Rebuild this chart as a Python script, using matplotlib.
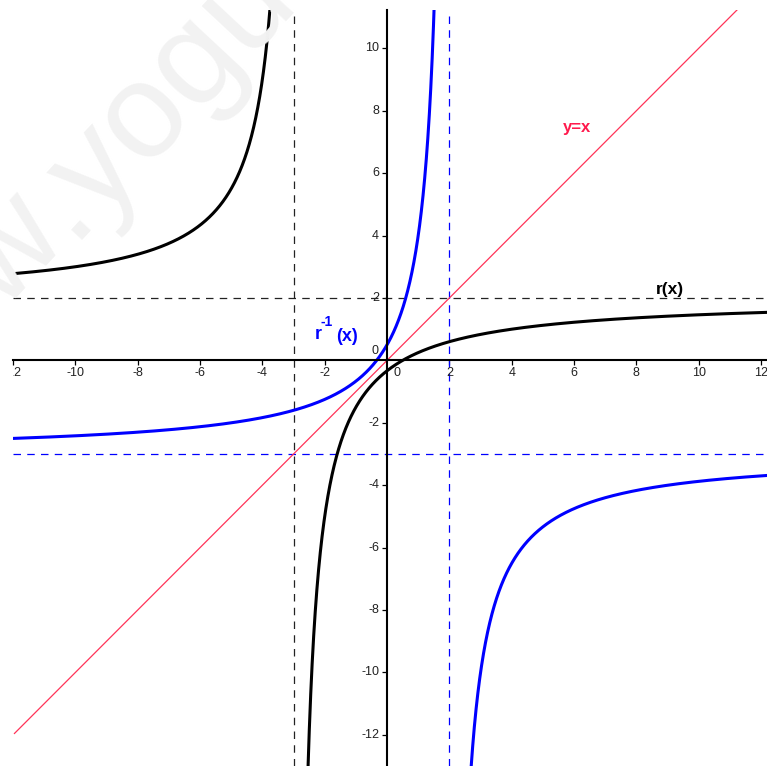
import numpy as np
import matplotlib
matplotlib.use("Agg")
import matplotlib.pyplot as plt
from matplotlib.transforms import offset_copy

plt.rcParams['font.family'] = ['Liberation Sans', 'DejaVu Sans']

# ---- data ----
# r(x) = (a*x + b) / (c*x + d)
r_num = [2, -1]
r_den = [1, 3]
# r^-1(x) = (a*x + b) / (c*x + d)
rinv_num = [3, 1]
rinv_den = [-1, 2]
r_vasym = -3.0      # vertical asymptote of r
r_hasym = 2.0       # horizontal asymptote of r
rinv_vasym = 2.0    # vertical asymptote of r^-1
rinv_hasym = -3.0   # horizontal asymptote of r^-1
x_ticks = [-12, -10, -8, -6, -4, -2, 2, 4, 6, 8, 10, 12]
y_ticks = [-12, -10, -8, -6, -4, -2, 2, 4, 6, 8, 10]
xlim = (-11.953, 12.190)
ylim = (-12.996, 11.227)

W, H = 767, 766
fig = plt.figure(figsize=(W / 100, H / 100), dpi=100)
fig.patch.set_facecolor('white')

# watermark
wm_kw = dict(fontsize=98, color='#f2f2f2', rotation=47, rotation_mode='anchor',
             va='baseline', zorder=0)
fig.text(70 / W, 1 - 240 / H, 'www', ha='right', **wm_kw)
fig.text(70 / W, 1 - 240 / H, '.yogu', ha='left', **wm_kw)

ax = fig.add_axes([13 / W, 0, 754 / W, 756 / H])
ax.set_facecolor('none')
ax.set_xlim(*xlim)
ax.set_ylim(*ylim)


def rational(num, den, x):
    return (num[0] * x + num[1]) / (den[0] * x + den[1])


eps = 1e-3
# r(x)
for lo, hi in [(xlim[0], r_vasym - eps), (r_vasym + eps, xlim[1])]:
    xs = np.linspace(lo, hi, 4000)
    ax.plot(xs, rational(r_num, r_den, xs), color='black', lw=2.2, zorder=5)
# r^-1(x)
for lo, hi in [(xlim[0], rinv_vasym - eps), (rinv_vasym + eps, xlim[1])]:
    xs = np.linspace(lo, hi, 4000)
    ax.plot(xs, rational(rinv_num, rinv_den, xs), color='#0000ff', lw=2.2, zorder=5)
# y = x
ax.plot(list(xlim), list(xlim), color='#ff3358', lw=0.9, zorder=4)

# asymptotes
dash = (0, (6, 5))
ax.axvline(r_vasym, color='#222222', lw=0.9, ls=dash, zorder=3)
ax.axhline(r_hasym, color='#222222', lw=0.9, ls=dash, zorder=3)
ax.axvline(rinv_vasym, color='#0000ff', lw=0.9, ls=dash, zorder=3)
ax.axhline(rinv_hasym, color='#0000ff', lw=0.9, ls=dash, zorder=3)

# axes through origin
for s in ['top', 'right']:
    ax.spines[s].set_visible(False)
ax.spines['left'].set_position(('data', 0))
ax.spines['bottom'].set_position(('data', 0))
ax.spines['left'].set_linewidth(1.5)
ax.spines['bottom'].set_linewidth(1.5)
ax.spines['left'].set_zorder(6)
ax.spines['bottom'].set_zorder(6)
ax.set_xticks(x_ticks)
ax.set_yticks(y_ticks)
ax.set_xticklabels([])
ax.set_yticklabels([])
ax.tick_params(direction='out', length=3.5, width=0.9, color='black')

lab_kw = dict(fontsize=9, color='#222222', clip_on=True, zorder=7)
tx = offset_copy(ax.transData, fig=fig, x=0, y=-13 * 0.72, units='points')
for v in x_ticks:
    ax.text(v, 0, '-%d' % abs(v) if v < 0 else '%d' % v, transform=tx,
            ha='center', va='center', **lab_kw)
ty = offset_copy(ax.transData, fig=fig, x=-8 * 0.72, y=0, units='points')
for v in y_ticks:
    ax.text(0, v, '-%d' % abs(v) if v < 0 else '%d' % v, transform=ty,
            ha='right', va='center', **lab_kw)
t0a = offset_copy(ax.transData, fig=fig, x=-12 * 0.72, y=9 * 0.72, units='points')
ax.text(0, 0, '0', transform=t0a, ha='center', va='center', **lab_kw)
t0b = offset_copy(ax.transData, fig=fig, x=10 * 0.72, y=-13 * 0.72, units='points')
ax.text(0, 0, '0', transform=t0b, ha='center', va='center', **lab_kw)

# curve labels
ax.text(6.10, 7.45, 'y=x', color='#ff1a4d', fontsize=12, fontweight='bold',
        ha='center', va='center', zorder=8)
ax.text(9.08, 2.26, 'r(x)', color='black', fontsize=12.5, fontweight='bold',
        ha='center', va='center', zorder=8)
ax.text(-2.22, 0.84, 'r', color='#0000ff', fontsize=13, fontweight='bold',
        ha='center', va='center', zorder=8)
ax.text(-1.93, 1.23, '-1', color='#0000ff', fontsize=10, fontweight='bold',
        ha='center', va='center', zorder=8)
ax.text(-1.29, 0.78, '(x)', color='#0000ff', fontsize=13, fontweight='bold',
        ha='center', va='center', zorder=8)

fig.savefig('out.png', dpi=100, facecolor='white')
